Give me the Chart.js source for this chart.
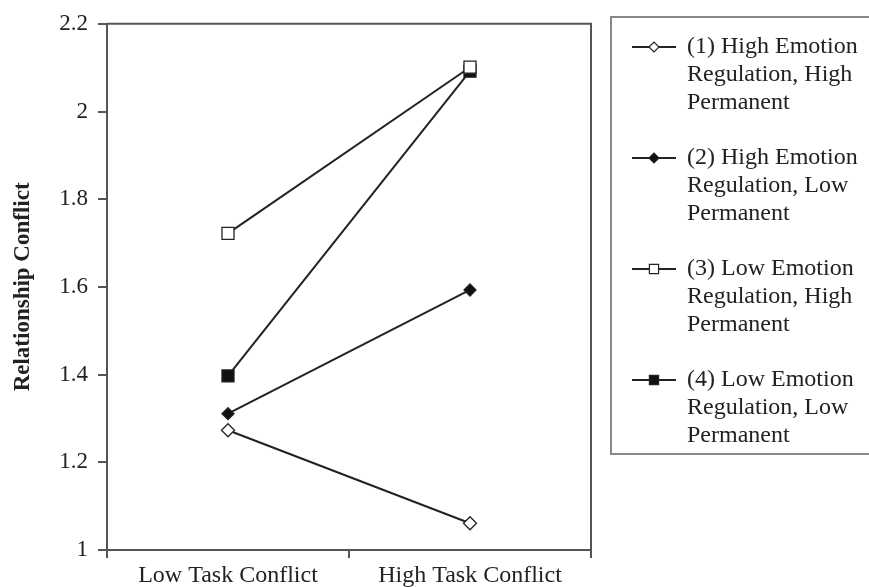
<!DOCTYPE html>
<html>
<head>
<meta charset="utf-8">
<script src="https://cdn.jsdelivr.net/npm/chart.js@4"></script>
<style>
  html, body { margin: 0; padding: 0; background: #fff; }
  #wrap { width: 869px; height: 587px; }
</style>
</head>
<body>
<div id="wrap"><canvas id="chart" width="869" height="587"></canvas></div>
<script>
// data
const categories = ['Low Task Conflict', 'High Task Conflict'];
const seriesNames = [
    '(1) High Emotion Regulation, High Permanent',
    '(2) High Emotion Regulation, Low Permanent',
    '(3) Low Emotion Regulation, High Permanent',
    '(4) Low Emotion Regulation, Low Permanent'
];
const series1 = [1.273, 1.061];
const series2 = [1.311, 1.593];
const series3 = [1.722, 2.101];
const series4 = [1.397, 2.092];
const yTickLabels = ['1', '1.2', '1.4', '1.6', '1.8', '2', '2.2'];

const serif = "'Liberation Serif', 'Times New Roman', serif";
const ink = '#222';

const markers = [
    { style: 'rectRot', radius: 6.5, fill: '#fff' },
    { style: 'rectRot', radius: 6, fill: '#111' },
    { style: 'rect', radius: 8.5, fill: '#fff' },
    { style: 'rect', radius: 8.5, fill: '#111' }
];

const allSeries = [series1, series2, series3, series4];
const datasets = allSeries.map((vals, i) => ({
    label: seriesNames[i],
    data: vals,
    borderColor: ink,
    borderWidth: 2,
    pointStyle: markers[i].style,
    pointRadius: markers[i].radius,
    pointHoverRadius: markers[i].radius,
    pointBackgroundColor: markers[i].fill,
    pointBorderColor: ink,
    pointBorderWidth: 1.3,
    tension: 0
}));

// box around the plot area (top and right edges)
const frame = {
    id: 'frame',
    beforeDatasetsDraw(chart) {
        const { ctx, chartArea: a } = chart;
        ctx.save();
        ctx.strokeStyle = '#555';
        ctx.lineWidth = 2;
        ctx.beginPath();
        ctx.moveTo(a.left, a.top);
        ctx.lineTo(a.right, a.top);
        ctx.lineTo(a.right, a.bottom);
        ctx.stroke();
        ctx.restore();
    }
};

// legend box on the right with wrapped labels
const sideLegend = {
    id: 'sideLegend',
    afterDraw(chart) {
        const ctx = chart.ctx;
        const boxX = 611, boxY = 17, boxW = 270, boxH = 437;
        ctx.save();
        ctx.strokeStyle = '#888';
        ctx.lineWidth = 2;
        ctx.strokeRect(boxX, boxY, boxW, boxH);

        ctx.font = '24px ' + serif;
        ctx.textBaseline = 'middle';
        ctx.textAlign = 'left';

        chart.data.datasets.forEach((ds, i) => {
            const y0 = 47 + i * 111;
            // marker line
            ctx.strokeStyle = ink;
            ctx.lineWidth = 2;
            ctx.beginPath();
            ctx.moveTo(632, y0);
            ctx.lineTo(676, y0);
            ctx.stroke();
            ctx.fillStyle = ds.pointBackgroundColor;
            ctx.strokeStyle = ink;
            ctx.lineWidth = 1.2;
            Chart.helpers.drawPoint(ctx, {
                pointStyle: ds.pointStyle,
                radius: ds.pointStyle === 'rect' ? 6.5 : 5,
                rotation: 0,
                borderWidth: 1.2
            }, 654, y0);

            // word wrap
            const words = ds.label.split(' ');
            const lines = [];
            let cur = '';
            words.forEach(w => {
                const test = cur ? cur + ' ' + w : w;
                if (ctx.measureText(test).width > 178 && cur) {
                    lines.push(cur);
                    cur = w;
                } else {
                    cur = test;
                }
            });
            if (cur) lines.push(cur);
            ctx.fillStyle = ink;
            lines.forEach((ln, k) => ctx.fillText(ln, 687, y0 + k * 28));
        });
        ctx.restore();
    }
};

const ctx = document.getElementById('chart').getContext('2d');
new Chart(ctx, {
    type: 'line',
    data: { labels: categories, datasets: datasets },
    options: {
        responsive: false,
        animation: false,
        layout: { padding: { top: 18, right: 278, bottom: 0, left: 0 } },
        plugins: {
            legend: { display: false },
            tooltip: { enabled: false }
        },
        scales: {
            x: {
                offset: true,
                grid: { offset: true, drawOnChartArea: false, tickLength: 8, color: '#555', lineWidth: 2 },
                border: { color: '#555', width: 2 },
                ticks: { color: ink, font: { family: serif, size: 24 }, padding: 3, maxRotation: 0 },
                afterFit(scale) { scale.height = 37; }
            },
            y: {
                min: 1,
                max: 2.2,
                ticks: {
                    stepSize: 0.2,
                    color: ink,
                    font: { family: serif, size: 23 },
                    padding: 10,
                    callback: (v, i) => yTickLabels[i]
                },
                grid: { drawOnChartArea: false, tickLength: 9, color: '#555', lineWidth: 2 },
                border: { color: '#555', width: 2 },
                title: {
                    display: true,
                    text: 'Relationship Conflict',
                    color: ink,
                    font: { family: serif, size: 23, weight: 'bold' },
                    padding: { top: 9, bottom: 0 }
                },
                afterFit(scale) { scale.width = 107; }
            }
        }
    },
    plugins: [frame, sideLegend]
});
</script>
</body>
</html>
